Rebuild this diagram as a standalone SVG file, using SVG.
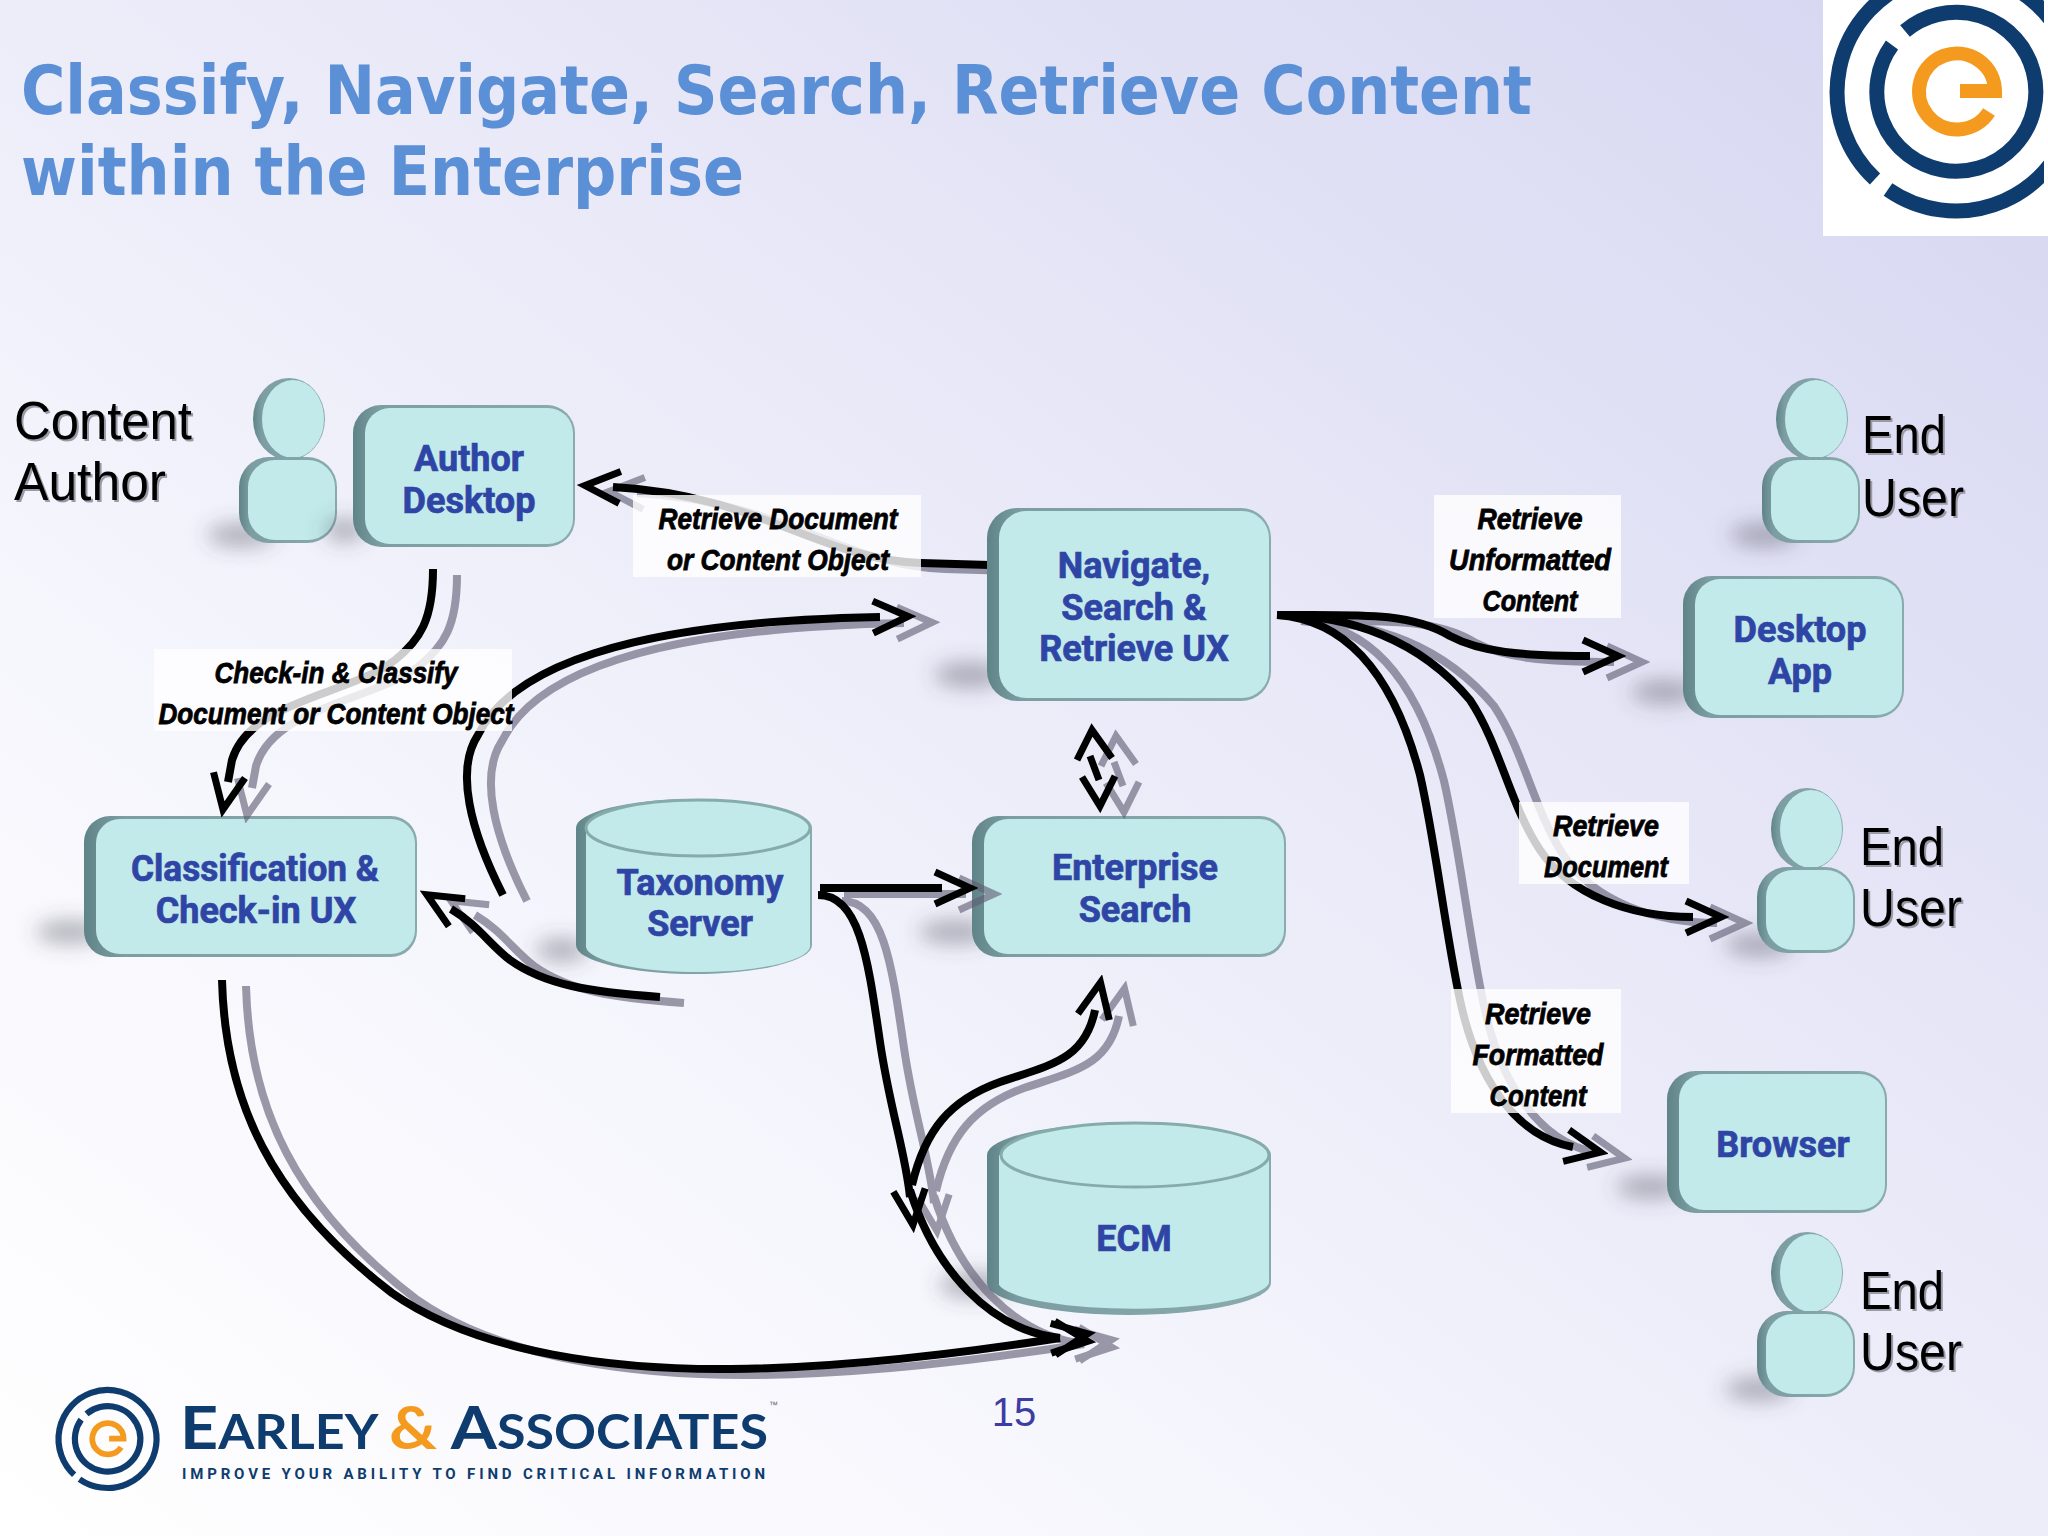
<svg xmlns="http://www.w3.org/2000/svg" xmlns:xlink="http://www.w3.org/1999/xlink" width="2048" height="1536" viewBox="0 0 2048 1536">
<style>
.title{font:bold 68px "DejaVu Sans","Noto Sans",sans-serif;fill:#5b8fd6}
.plain{font:53px "Liberation Sans","Noto Sans",sans-serif;fill:#000;filter:drop-shadow(2px 2px 0 #9a9aa6)}
.nt{font:bold 36px Roboto,"Liberation Sans",sans-serif;fill:#2f45a6;stroke:#2f45a6;stroke-width:.7;text-anchor:middle}
.lab{font:italic bold 29px "Liberation Sans",sans-serif;fill:#000;stroke:#000;stroke-width:.8;text-anchor:middle}
.lbox{fill:#fff;fill-opacity:.8}
.base{fill:url(#bevel)}
.face{fill:#c2eaea}
.cap{fill:#c2eaea;stroke:#86abab;stroke-width:3}
.sh{fill:#4a4a5a;fill-opacity:.4;filter:url(#blur)}
.edge{fill:none;stroke:#000;stroke-width:8;marker-end:url(#open)}
.bare{fill:none;stroke:#000;stroke-width:7}
#connectors{filter:drop-shadow(24px 6px 0 rgba(95,92,115,.62))}
.navy{fill:none;stroke:#0f3c6e}
.org{fill:none;stroke:#f39a1f}
</style>
<defs>
<linearGradient id="bg" x1="0" y1="1" x2="1" y2="0">
<stop offset="0" stop-color="#ffffff"/><stop offset=".3" stop-color="#f6f6fd"/><stop offset=".65" stop-color="#e6e6f7"/><stop offset="1" stop-color="#d5d5f1"/>
</linearGradient>
<linearGradient id="bevel" x1="0" y1="0" x2="1" y2="0">
<stop offset="0" stop-color="#5f8488"/><stop offset=".12" stop-color="#7c9ea2"/><stop offset="1" stop-color="#8aabae"/>
</linearGradient>
<filter id="blur" x="-60%" y="-120%" width="220%" height="340%"><feGaussianBlur stdDeviation="10"/></filter>
<marker id="open" viewBox="-12 -22 48 44" refX="0" refY="0" markerWidth="48" markerHeight="44" markerUnits="userSpaceOnUse" orient="auto">
<path d="M-7 -16L28 0L-7 16" fill="none" stroke="#000" stroke-width="7"/>
</marker>
<clipPath id="logoClip"><rect x="1823" y="0" width="221" height="236"/></clipPath>
<g id="emark">
<path class="navy" stroke-width="15" d="M-68 97.5A119 119 0 1 0 -81 87"/>
<path class="navy" stroke-width="15" d="M-51 -61A79.500 79.500 0 1 1 -64 -47"/>
<path class="org" stroke-width="14" d="M4 -1L39 -1A38 38 0 1 0 33 20"/>
</g>
<g id="person">
<ellipse class="sh" cx="-48" cy="116" rx="34" ry="12"/>
<ellipse class="base" cx="0" cy="0" rx="36" ry="41"/>
<ellipse class="face" cx="4" cy="0" rx="31" ry="39"/>
<rect class="base" x="-50" y="38" width="98" height="86" rx="30"/>
<rect class="face" x="-41" y="41" width="87" height="80" rx="27"/>
</g>
</defs>
<rect width="2048" height="1536" fill="url(#bg)"/>
<text class="title" x="21" y="114" textLength="1511" lengthAdjust="spacingAndGlyphs">Classify, Navigate, Search, Retrieve Content</text>
<text class="title" x="21" y="195" textLength="723" lengthAdjust="spacingAndGlyphs">within the Enterprise</text>

<g id="logo-top">
<rect x="1823" y="0" width="225" height="236" fill="#fff"/>
<g clip-path="url(#logoClip)"><use href="#emark" transform="translate(1956 92)"/></g>
</g>

<g id="label-content-author">
<text class="plain" x="14" y="439" textLength="178" lengthAdjust="spacingAndGlyphs">Content</text>
<text class="plain" x="14" y="500" textLength="152" lengthAdjust="spacingAndGlyphs">Author</text>
</g>
<g id="person-author"><use href="#person" transform="translate(289 419)"/></g>
<g id="node-author-desktop">
<ellipse class="sh" cx="345" cy="530" rx="20" ry="12"/>
<rect class="base" x="353" y="405" width="222" height="142" rx="28"/>
<rect class="face" x="365" y="408" width="208" height="136" rx="25"/>
<text class="nt" x="469" y="471">Author</text><text class="nt" x="469" y="513">Desktop</text>
</g>
<g id="node-classification">
<ellipse class="sh" cx="70" cy="932" rx="34" ry="12"/>
<rect class="base" x="84" y="816" width="333" height="141" rx="26"/>
<rect class="face" x="96" y="819" width="319" height="135" rx="24"/>
<text class="nt" x="255" y="881" textLength="248" lengthAdjust="spacingAndGlyphs">Classification &amp;</text><text class="nt" x="256" y="923">Check-in UX</text>
</g>
<g id="node-taxonomy">
<ellipse class="sh" cx="562" cy="950" rx="26" ry="12"/>
<path class="base" d="M576 828A118 29 0 0 1 812 828V945A118 29 0 0 1 576 945Z"/>
<path class="face" d="M586 828H810V945A112 26 0 0 1 586 947Z"/>
<ellipse class="cap" cx="698" cy="828" rx="112" ry="28"/>
<text class="nt" x="700" y="895">Taxonomy</text><text class="nt" x="700" y="936">Server</text>
</g>
<g id="node-enterprise-search">
<ellipse class="sh" cx="955" cy="932" rx="36" ry="12"/>
<rect class="base" x="972" y="816" width="314" height="141" rx="26"/>
<rect class="face" x="984" y="819" width="300" height="135" rx="24"/>
<text class="nt" x="1135" y="880">Enterprise</text><text class="nt" x="1135" y="922">Search</text>
</g>
<g id="node-ecm">
<ellipse class="sh" cx="975" cy="1285" rx="36" ry="13"/>
<path class="base" d="M987 1155A142 32 0 0 1 1271 1155V1283A142 32 0 0 1 987 1283Z"/>
<path class="face" d="M999 1155H1269V1283A136 28 0 0 1 999 1285Z"/>
<ellipse class="cap" cx="1135" cy="1155" rx="134" ry="32"/>
<text class="nt" x="1134" y="1251">ECM</text>
</g>
<g id="node-desktop-app">
<ellipse class="sh" cx="1665" cy="692" rx="34" ry="12"/>
<rect class="base" x="1683" y="576" width="221" height="142" rx="28"/>
<rect class="face" x="1695" y="579" width="207" height="136" rx="25"/>
<text class="nt" x="1800" y="642">Desktop</text><text class="nt" x="1800" y="684">App</text>
</g>
<g id="node-browser">
<ellipse class="sh" cx="1650" cy="1187" rx="34" ry="12"/>
<rect class="base" x="1667" y="1071" width="220" height="142" rx="28"/>
<rect class="face" x="1679" y="1074" width="206" height="136" rx="25"/>
<text class="nt" x="1783" y="1157">Browser</text>
</g>
<g id="person-end-1"><use href="#person" transform="translate(1812 419)"/>
<text class="plain" x="1862" y="453" textLength="84" lengthAdjust="spacingAndGlyphs">End</text><text class="plain" x="1862" y="516" textLength="102" lengthAdjust="spacingAndGlyphs">User</text></g>
<g id="person-end-2"><use href="#person" transform="translate(1807 829)"/>
<text class="plain" x="1860" y="865" textLength="84" lengthAdjust="spacingAndGlyphs">End</text><text class="plain" x="1860" y="926" textLength="102" lengthAdjust="spacingAndGlyphs">User</text></g>
<g id="person-end-3"><use href="#person" transform="translate(1807 1273)"/>
<text class="plain" x="1860" y="1309" textLength="84" lengthAdjust="spacingAndGlyphs">End</text><text class="plain" x="1860" y="1370" textLength="102" lengthAdjust="spacingAndGlyphs">User</text></g>

<g id="connectors">
<path class="edge" d="M990 565L921 563C820 560 760 495 613 487"/>
<path class="edge" d="M433 569C433 620 420 640 395 660C350 695 250 700 232 760L228 782"/>
<path class="edge" d="M503 895C470 830 455 770 478 735C510 670 620 622 880 617"/>
<path class="edge" d="M660 997C590 992 545 985 510 960C490 945 478 925 451 909"/>
<path class="edge" d="M820 888L942 888"/>
<path class="edge" d="M818 895C860 895 868 960 880 1042C890 1110 905 1150 910 1197"/>
<path class="edge" d="M910 1190C935 1270 990 1330 1060 1338"/>
<path class="edge" d="M912 1185C925 1130 950 1100 1000 1082C1050 1065 1085 1060 1095 1010"/>
<path class="edge" d="M222 980C225 1100 270 1200 392 1293C480 1355 620 1370 731 1369C850 1368 970 1352 1060 1338"/>
<path class="bare" d="M1090 756L1099 780M1077 760L1092 730L1112 758M1082 777L1100 806L1115 776"/>
<path class="edge" d="M1277 615C1360 615 1410 612 1450 636C1480 652 1520 656 1590 656"/>
<path class="edge" d="M1277 615C1350 615 1420 640 1470 700C1500 745 1510 805 1540 850C1570 895 1630 917 1693 917"/>
<path class="edge" d="M1277 615C1350 620 1395 680 1420 775C1435 840 1445 930 1460 1000C1475 1070 1510 1135 1573 1147"/>
</g>

<g id="node-navigate">
<ellipse class="sh" cx="970" cy="675" rx="36" ry="13"/>
<rect class="base" x="987" y="508" width="284" height="193" rx="30"/>
<rect class="face" x="999" y="511" width="270" height="187" rx="27"/>
<text class="nt" x="1134" y="578">Navigate,</text><text class="nt" x="1134" y="620">Search &amp;</text><text class="nt" x="1134" y="661">Retrieve UX</text>
</g>

<g id="labels">
<g><rect class="lbox" x="633" y="495" width="288" height="82"/>
<text class="lab" x="778" y="529" textLength="239" lengthAdjust="spacingAndGlyphs">Retrieve Document</text>
<text class="lab" x="778" y="570" textLength="222" lengthAdjust="spacingAndGlyphs">or Content Object</text></g>
<g><rect class="lbox" x="154" y="649" width="358" height="82"/>
<text class="lab" x="336" y="683" textLength="243" lengthAdjust="spacingAndGlyphs">Check-in &amp; Classify</text>
<text class="lab" x="336" y="724" textLength="355" lengthAdjust="spacingAndGlyphs">Document or Content Object</text></g>
<g><rect class="lbox" x="1434" y="495" width="187" height="123"/>
<text class="lab" x="1530" y="529" textLength="105" lengthAdjust="spacingAndGlyphs">Retrieve</text>
<text class="lab" x="1530" y="570" textLength="162" lengthAdjust="spacingAndGlyphs">Unformatted</text>
<text class="lab" x="1530" y="611" textLength="95" lengthAdjust="spacingAndGlyphs">Content</text></g>
<g><rect class="lbox" x="1519" y="802" width="170" height="82"/>
<text class="lab" x="1606" y="836" textLength="106" lengthAdjust="spacingAndGlyphs">Retrieve</text>
<text class="lab" x="1606" y="877" textLength="124" lengthAdjust="spacingAndGlyphs">Document</text></g>
<g><rect class="lbox" x="1451" y="989" width="170" height="124"/>
<text class="lab" x="1538" y="1024" textLength="106" lengthAdjust="spacingAndGlyphs">Retrieve</text>
<text class="lab" x="1538" y="1065" textLength="131" lengthAdjust="spacingAndGlyphs">Formatted</text>
<text class="lab" x="1538" y="1106" textLength="97" lengthAdjust="spacingAndGlyphs">Content</text></g>
</g>

<g id="logo-bottom">
<use href="#emark" transform="translate(107.500 1439) scale(.412)"/>
<text x="180" y="1449" textLength="588" lengthAdjust="spacingAndGlyphs" style="font:bold 60px Lato,'Noto Sans',sans-serif;fill:#0f3c6e"><tspan>E</tspan><tspan font-size="47">ARLEY </tspan><tspan fill="#f39a1f">&amp;</tspan><tspan> A</tspan><tspan font-size="47">SSOCIATES</tspan></text>
<text x="182" y="1479" textLength="583" style="font:bold 15px Roboto,'Liberation Sans',sans-serif;fill:#0f3c6e">IMPROVE YOUR ABILITY TO FIND CRITICAL INFORMATION</text>
<text x="769" y="1408" style="font:9px 'Liberation Sans',sans-serif;fill:#667">™</text>
</g>
<text x="1014" y="1426" text-anchor="middle" style="font:40px 'Liberation Sans',sans-serif;fill:#3c3ca2">15</text>
</svg>
